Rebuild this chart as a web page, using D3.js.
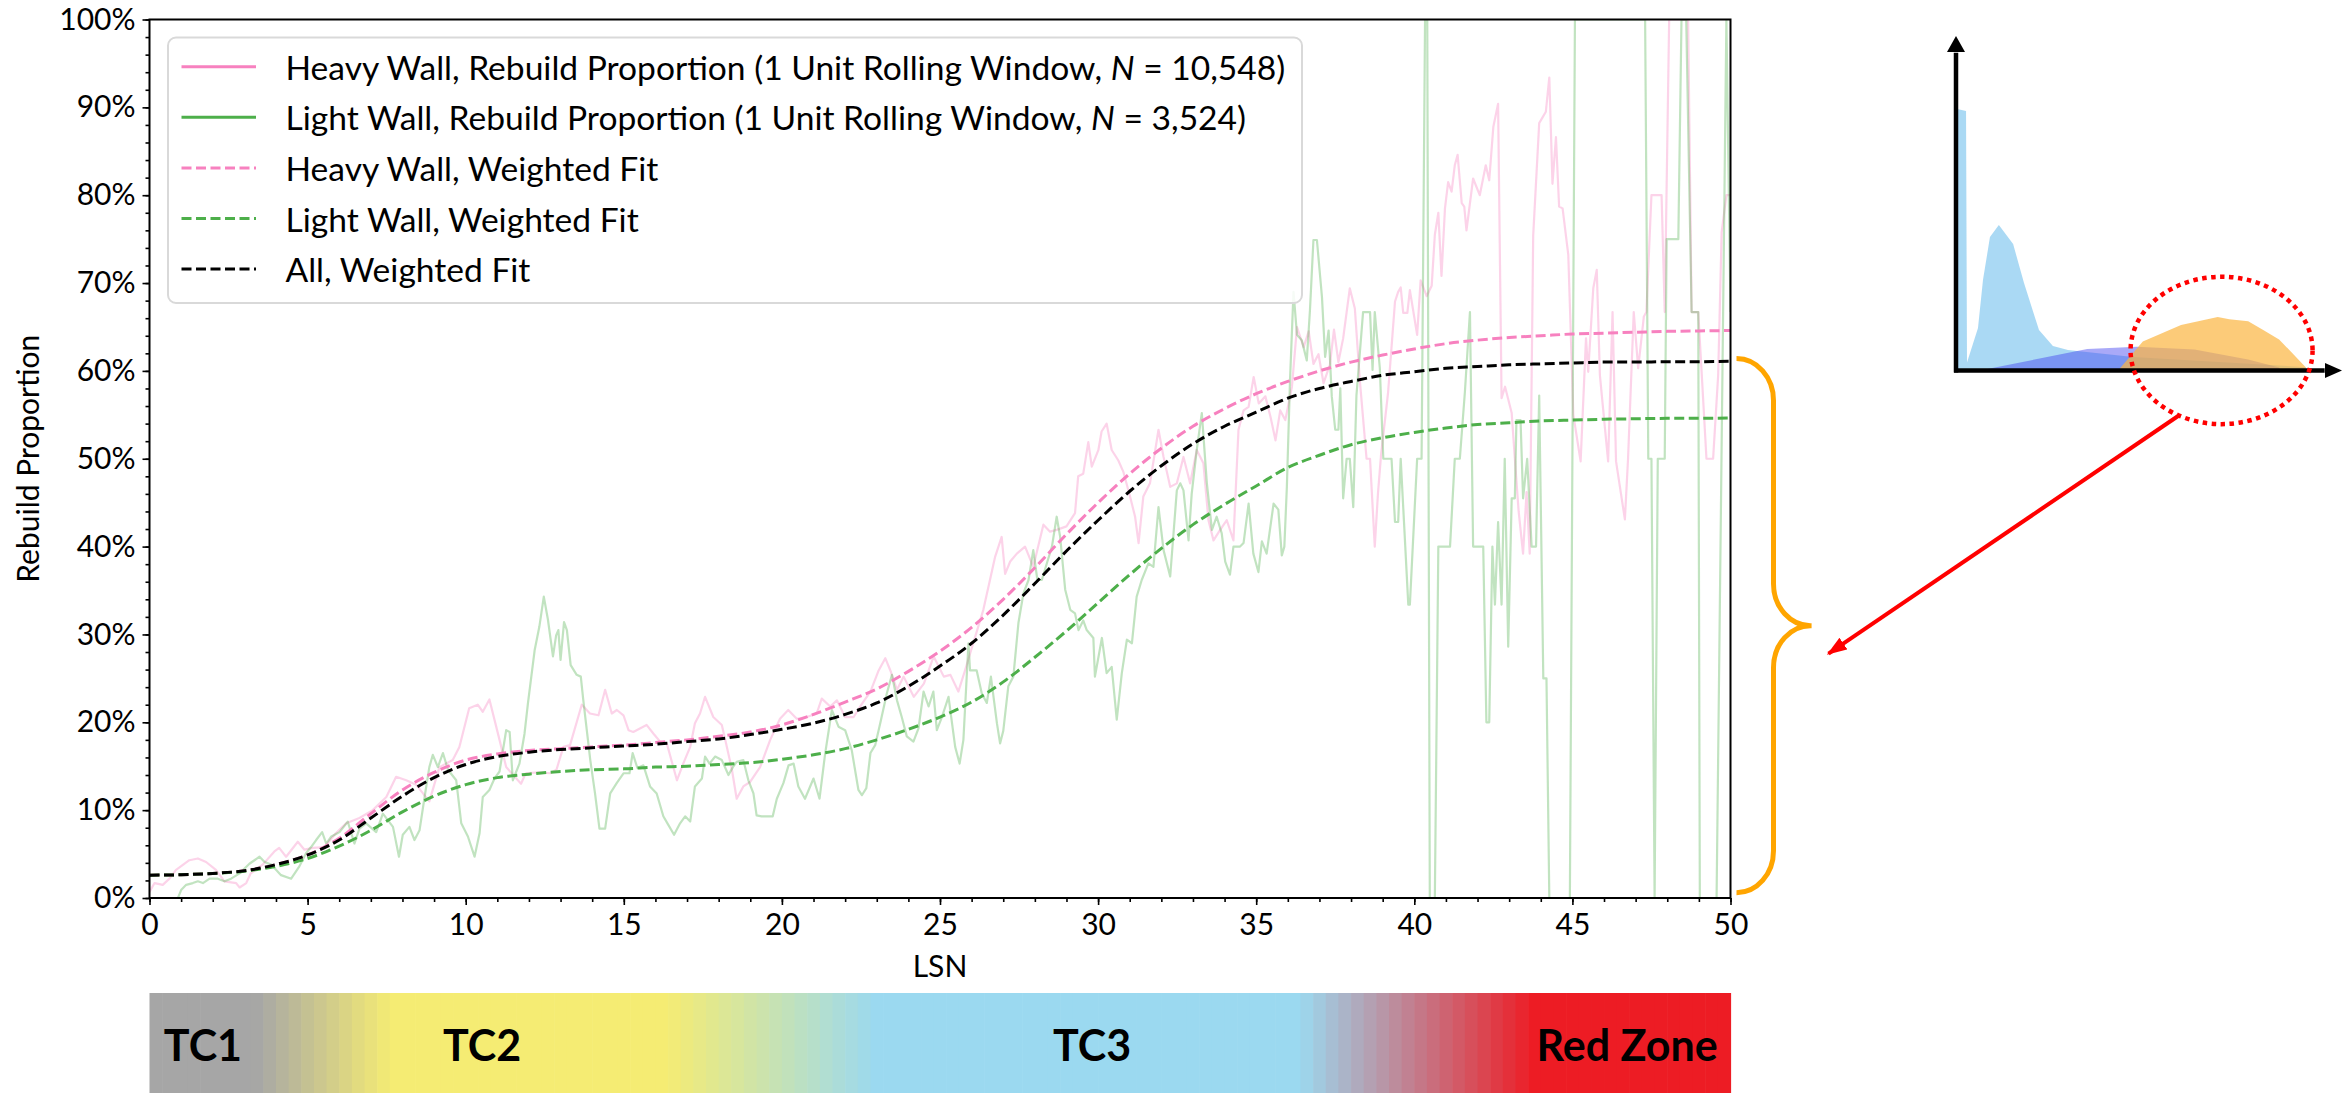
<!DOCTYPE html>
<html>
<head>
<meta charset="utf-8">
<script src="https://cdn.jsdelivr.net/npm/d3@7"></script>
<style>
  body { margin: 0; background: #fff; }
  svg { display: block; font-family: Lato, "DejaVu Sans", sans-serif; }
</style>
</head>
<body>
<div id="chart"></div>
<script>
// ---- data (percent values) ----
const heavyRolling = [[0,0.7],[0.16,1.7],[0.42,1.5],[0.63,2.2],[0.84,3.2],[1.26,4.3],[1.53,4.5],[1.79,4.1],[2.1,3.2],[2.37,1.9],[2.74,1.7],[2.85,1.2],[3.06,1.7],[3.2,2.8],[3.58,3.8],[3.95,5.3],[4.1,5.7],[4.32,4.7],[4.69,6.4],[4.9,5.5],[5.17,5.7],[5.53,5.8],[5.9,7.4],[6.22,8.5],[6.64,9.1],[7.06,10.0],[7.49,11.5],[7.8,13.8],[8.12,13.4],[8.43,12.9],[8.85,11.0],[9.17,14.9],[9.59,15.7],[9.8,17.2],[10.11,21.6],[10.38,22.0],[10.54,21.2],[10.75,22.6],[11.07,18.0],[11.28,14.9],[11.75,13.0],[11.9,14.2],[12.3,14.3],[12.67,14.2],[12.87,14.6],[13.09,17.2],[13.3,17.4],[13.67,22.0],[13.93,21.0],[14.2,20.8],[14.41,23.7],[14.62,21.0],[14.78,21.4],[14.99,20.8],[15.15,19.1],[15.3,18.9],[15.72,19.7],[15.94,18.7],[16.15,17.8],[16.36,17.6],[16.68,13.4],[16.88,15.3],[17.1,17.2],[17.25,19.9],[17.41,21.0],[17.57,22.9],[17.83,20.6],[18.1,19.7],[18.26,17.2],[18.42,14.6],[18.57,11.3],[18.78,12.7],[18.99,13.2],[19.31,14.9],[19.63,18.0],[19.94,20.4],[20.2,21.4],[20.47,20.4],[20.79,20.6],[21.1,21.0],[21.26,22.7],[21.53,21.8],[21.74,22.5],[22.0,20.6],[22.27,20.6],[22.53,22.1],[22.8,23.5],[23.06,25.9],[23.27,27.3],[23.43,25.9],[23.64,23.7],[23.85,25.2],[24.17,22.9],[24.49,24.4],[24.8,27.5],[25.12,25.2],[25.33,25.4],[25.58,23.5],[25.79,25.9],[25.95,27.8],[26.37,32.8],[26.58,36.2],[26.74,38.8],[26.95,41.1],[27.06,36.9],[27.22,38.3],[27.43,39.2],[27.69,40.0],[27.95,37.7],[28.27,42.5],[28.48,41.7],[28.69,41.9],[29.0,42.3],[29.27,43.8],[29.37,48.0],[29.53,48.3],[29.69,51.9],[29.8,49.1],[30.01,51.0],[30.11,53.1],[30.27,54.0],[30.43,51.0],[30.64,49.8],[30.8,48.5],[31.01,45.7],[31.17,43.4],[31.28,40.4],[31.43,45.7],[31.64,47.2],[31.91,53.3],[32.07,50.2],[32.28,46.8],[32.49,47.2],[32.7,50.2],[32.91,47.2],[33.12,51.0],[33.33,49.5],[33.49,43.0],[33.65,40.7],[33.86,41.9],[34.07,43.0],[34.28,40.7],[34.44,53.3],[34.6,55.5],[34.76,55.9],[34.92,59.3],[35.08,56.3],[35.29,57.1],[35.45,54.8],[35.61,52.1],[35.76,55.5],[35.92,54.4],[36.13,58.2],[36.29,65.0],[36.5,62.7],[36.66,64.5],[36.81,60.8],[36.97,61.9],[37.13,58.6],[37.33,60.7],[37.46,64.7],[37.6,61.0],[37.75,63.7],[37.96,69.4],[38.12,67.1],[38.28,58.8],[38.49,50.0],[38.6,50.0],[38.75,40.0],[38.85,46.0],[38.95,50.5],[39.17,57.5],[39.39,67.9],[39.49,69.0],[39.57,69.5],[39.65,66.6],[39.78,66.6],[39.86,69.2],[40.09,64.1],[40.2,70.3],[40.39,68.5],[40.55,69.7],[40.65,75.5],[40.76,78.0],[40.86,70.8],[40.97,78.5],[41.07,81.5],[41.18,80.4],[41.28,83.4],[41.37,84.6],[41.5,79.1],[41.58,78.7],[41.65,76.0],[41.86,81.9],[42.07,80.0],[42.26,83.4],[42.37,81.7],[42.5,87.8],[42.65,90.4],[42.76,56.9],[42.87,58.2],[43.08,55.2],[43.18,50.0],[43.3,44.0],[43.44,39.2],[43.55,46.2],[43.65,39.2],[43.76,75.4],[43.95,88.2],[44.16,89.5],[44.27,93.4],[44.37,81.3],[44.48,86.6],[44.58,78.7],[44.69,78.5],[44.87,73.2],[45.03,55.0],[45.26,49.7],[45.43,63.7],[45.5,59.9],[45.66,69.4],[45.77,71.5],[45.87,59.5],[46.13,49.7],[46.27,66.7],[46.38,49.7],[46.66,43.1],[46.76,50.0],[46.94,66.7],[47.08,60.3],[47.26,66.2],[47.34,66.7],[47.5,80.0],[47.82,80.0],[47.92,66.7],[48.06,100],[48.66,100],[48.77,66.7],[48.98,66.7],[49.08,60.3],[49.24,50.0],[49.45,50.0],[49.61,59.5],[49.72,75.8],[49.87,80.0],[50,80.0]];

const lightRolling = [[0.9,0],[1.0,0.9],[1.16,1.5],[1.37,1.7],[1.53,1.9],[1.69,1.7],[1.9,2.2],[2.16,2.2],[2.37,1.9],[2.58,2.2],[2.85,2.8],[3.16,3.9],[3.32,4.3],[3.48,4.7],[3.64,4.1],[3.85,3.8],[4.16,2.6],[4.48,2.2],[4.74,3.6],[4.95,5.1],[5.11,5.8],[5.27,6.6],[5.46,7.5],[5.59,6.2],[5.75,7.0],[6.01,7.5],[6.27,8.7],[6.48,6.2],[6.64,7.9],[6.85,8.5],[7.17,7.5],[7.38,9.6],[7.7,8.1],[7.89,4.7],[8.01,7.2],[8.22,8.1],[8.38,6.6],[8.54,7.7],[8.7,11.5],[8.85,14.9],[8.96,16.3],[9.12,14.9],[9.28,16.5],[9.44,14.6],[9.7,13.4],[9.86,8.5],[10.07,7.0],[10.28,4.7],[10.44,7.4],[10.54,11.5],[10.75,12.3],[10.91,13.6],[11.07,14.4],[11.28,19.1],[11.39,18.9],[11.49,13.4],[11.7,15.3],[11.86,18.7],[11.97,22.2],[12.18,28.2],[12.33,30.9],[12.47,34.3],[12.6,31.7],[12.76,27.5],[12.86,29.9],[12.93,30.5],[13.0,27.1],[13.11,31.4],[13.2,30.5],[13.32,26.5],[13.51,25.4],[13.64,25.2],[13.72,22.5],[13.94,15.7],[14.09,11.9],[14.23,7.9],[14.41,7.9],[14.57,11.9],[14.78,13.1],[14.99,14.2],[15.18,14.2],[15.28,16.5],[15.43,14.8],[15.62,15.1],[15.83,12.7],[16.04,11.9],[16.25,9.3],[16.38,8.5],[16.59,7.2],[16.78,8.5],[16.94,9.3],[17.1,8.7],[17.25,12.7],[17.47,13.6],[17.57,16.1],[17.71,15.3],[17.89,16.1],[18.1,15.7],[18.31,14.0],[18.45,14.9],[18.57,15.5],[18.78,15.7],[18.94,13.4],[19.1,11.9],[19.2,9.4],[19.36,9.3],[19.52,9.3],[19.71,9.3],[19.84,11.3],[20.05,13.1],[20.21,15.1],[20.37,15.3],[20.52,12.7],[20.73,11.3],[21.0,13.6],[21.19,11.3],[21.37,16.5],[21.58,21.4],[21.79,19.5],[22.0,19.1],[22.21,16.8],[22.42,12.3],[22.53,11.7],[22.67,12.5],[22.8,16.5],[22.95,17.4],[23.11,19.9],[23.32,23.3],[23.48,25.4],[23.64,22.5],[23.79,20.6],[23.95,18.4],[24.16,17.8],[24.32,19.3],[24.48,23.5],[24.64,21.8],[24.79,23.5],[24.9,19.1],[25.06,20.6],[25.27,22.9],[25.48,17.2],[25.62,15.3],[25.74,18.0],[25.9,29.0],[25.95,25.9],[26.16,25.9],[26.32,23.3],[26.48,22.2],[26.61,25.2],[26.8,19.9],[26.9,17.6],[27.0,19.0],[27.16,24.1],[27.32,25.2],[27.48,31.3],[27.64,34.7],[27.8,36.2],[27.95,39.6],[28.08,36.2],[28.22,36.2],[28.38,38.1],[28.54,40.0],[28.69,43.4],[28.8,41.1],[28.96,35.1],[29.12,32.8],[29.27,32.4],[29.38,30.5],[29.53,31.6],[29.64,30.5],[29.85,29.6],[29.9,25.2],[30.12,29.6],[30.27,25.6],[30.43,26.3],[30.59,20.3],[30.75,25.6],[30.91,29.4],[31.07,29.0],[31.22,34.3],[31.38,36.2],[31.59,38.1],[31.75,37.7],[31.91,44.5],[32.07,39.6],[32.28,36.6],[32.49,46.4],[32.6,47.2],[32.7,46.4],[32.86,40.7],[32.96,46.0],[33.12,51.0],[33.28,55.2],[33.44,47.2],[33.6,41.9],[33.75,43.4],[33.91,41.5],[34.02,38.3],[34.17,36.8],[34.28,40.0],[34.49,40.0],[34.6,40.4],[34.76,44.9],[34.91,39.2],[35.07,37.1],[35.18,40.6],[35.33,39.2],[35.55,44.9],[35.7,44.2],[35.81,39.0],[35.89,40.0],[35.97,46.8],[36.07,59.0],[36.18,69.0],[36.29,64.1],[36.44,63.5],[36.6,61.2],[36.7,66.9],[36.81,74.9],[36.92,74.9],[37.08,68.4],[37.18,61.6],[37.29,64.6],[37.39,57.1],[37.5,53.3],[37.6,53.3],[37.66,58.0],[37.75,45.5],[37.86,50.0],[37.96,50.0],[38.07,44.5],[38.17,57.2],[38.38,66.7],[38.6,66.7],[38.68,60.1],[38.75,66.7],[38.91,60.3],[39.02,50.0],[39.28,50.0],[39.39,42.8],[39.49,42.8],[39.57,50.0],[39.81,33.4],[39.86,33.4],[40.09,50.0],[40.23,50.0],[40.34,100],[40.41,100],[40.49,0],[40.65,0],[40.76,40.0],[41.13,40.0],[41.28,50.0],[41.44,50.0],[41.6,57.6],[41.76,66.7],[41.86,40.0],[42.18,40.0],[42.28,20.0],[42.37,20.0],[42.47,40.0],[42.55,33.4],[42.65,42.8],[42.76,33.4],[42.86,50.0],[42.97,28.6],[43.08,45.5],[43.18,45.5],[43.23,54.4],[43.36,54.4],[43.44,45.5],[43.57,50.0],[43.71,40.0],[43.85,40.0],[43.95,57.2],[44.08,25.0],[44.18,25.0],[44.27,0],[44.92,0],[45.08,100],[47.3,100],[47.4,50.0],[47.5,50.0],[47.6,0],[47.7,50.0],[47.92,50.0],[47.98,75.0],[48.35,75.0],[48.45,100],[48.6,100],[48.77,66.7],[48.98,66.7],[49.03,0],[49.56,0],[49.87,100],[50,66.7]];

// weighted fits, one value per whole LSN from 0 to 50
const fitLSN = d3.range(0, 51);
const heavyFit = [2.6,2.65,2.8,3.1,3.8,4.9,6.8,9.6,12.3,14.3,15.7,16.4,16.8,17.0,17.2,17.4,17.7,18.0,18.4,18.9,19.7,20.9,22.3,23.8,25.8,28.1,30.8,34.0,37.6,41.4,45.0,48.3,51.2,53.7,55.7,57.4,58.8,60.0,61.0,61.8,62.5,63.1,63.5,63.8,64.0,64.2,64.3,64.4,64.5,64.55,64.6];
const lightFit = [2.6,2.65,2.8,3.05,3.6,4.5,5.9,7.7,9.8,11.6,12.9,13.7,14.1,14.4,14.6,14.7,14.9,15.0,15.2,15.4,15.8,16.3,17.0,18.0,19.2,20.6,22.3,24.6,27.4,30.4,33.6,36.8,39.8,42.5,44.8,46.9,49.0,50.4,51.6,52.4,53.0,53.5,53.9,54.1,54.3,54.4,54.5,54.55,54.6,54.6,54.65];
const allFit = [2.6,2.65,2.8,3.1,3.8,4.9,6.6,9.1,11.6,13.7,15.2,16.1,16.6,16.9,17.1,17.3,17.5,17.8,18.1,18.6,19.2,19.9,20.9,22.2,24.1,26.4,29.0,32.2,35.8,39.5,43.0,46.3,49.2,51.7,53.7,55.3,56.9,58.0,58.8,59.5,59.9,60.3,60.5,60.7,60.8,60.9,61.0,61.0,61.05,61.05,61.1];

const legendLabels = [
  ["Heavy Wall, Rebuild Proportion (1 Unit Rolling Window, ", "N", " = 10,548)"],
  ["Light Wall, Rebuild Proportion (1 Unit Rolling Window, ", "N", " = 3,524)"],
  ["Heavy Wall, Weighted Fit"],
  ["Light Wall, Weighted Fit"],
  ["All, Weighted Fit"]
];

// zone colour bar under the x axis
const zoneStopLSN = [0, 3.35, 7.65, 16.35, 23.0, 36.35, 43.8, 50];
const zoneStopColors = ["#a6a6a6", "#a6a6a6", "#f5ec73", "#f5ec73", "#9bd9f0", "#9bd9f0", "#ed1c24", "#ed1c24"];
const zoneLabels = ["TC1", "TC2", "TC3", "Red Zone"];
const zoneLabelLSN = [1.69, 10.52, 29.81, 46.73];

// sketch of the distributions (local units 0-100)
const sketchLightBlue = [[0.3,0],[0.3,78.2],[2.6,77.6],[2.85,2.4],[5.7,12.7],[7.0,27.1],[8.8,39.9],[11.1,43.5],[14.8,37.8],[17.6,26.2],[21.5,12.1],[25.1,7.3],[29,6.1],[45.9,4.0],[90.6,1.0],[90.6,0]];
const sketchBlue = [[6.2,0],[34,6.4],[46.9,7.1],[61.8,6.3],[75.7,3.3],[83.7,0.9],[84,0]];
const sketchOrange = [[42.5,0],[42.5,0.7],[48.4,8.7],[58.3,13.6],[67.8,16.0],[70.8,15.3],[75.7,14.7],[79.7,12.0],[83.7,9.3],[90.6,1.0],[90.6,0]];
const braceRange = [0.006, 0.614];

// ---- layout ----
const W = 2351, H = 1093;
const plotLeft = 149.5, plotRight = 1730.5, plotTop = 19.5, plotBottom = 898;
const barTop = 993, barHeight = 100;
const pink = "#f781bf", green = "#4daf4a";

const x = d3.scaleLinear().domain([0, 50]).range([plotLeft, plotRight]);
const y = d3.scaleLinear().domain([0, 1]).range([plotBottom, plotTop]);

const svg = d3.select("#chart").append("svg")
  .attr("width", W).attr("height", H);

svg.append("defs").append("clipPath").attr("id", "plotclip")
  .append("rect")
  .attr("x", plotLeft).attr("y", plotTop)
  .attr("width", plotRight - plotLeft).attr("height", plotBottom - plotTop);

// ---- lines ----
const lineXY = d3.line().x(d => x(d[0])).y(d => y(d[1] / 100));
const fitLine = d3.line().x((d, i) => x(fitLSN[i])).y(d => y(d / 100)).curve(d3.curveMonotoneX);

const lines = svg.append("g").attr("clip-path", "url(#plotclip)");

lines.append("path").datum(heavyRolling)
  .attr("d", lineXY).attr("fill", "none")
  .attr("stroke", pink).attr("stroke-opacity", 0.35)
  .attr("stroke-width", 2.2).attr("stroke-linejoin", "round");

lines.append("path").datum(lightRolling)
  .attr("d", lineXY).attr("fill", "none")
  .attr("stroke", green).attr("stroke-opacity", 0.35)
  .attr("stroke-width", 2.2).attr("stroke-linejoin", "round");

[[heavyFit, pink], [lightFit, green], [allFit, "#000"]].forEach(([vals, col]) => {
  lines.append("path").datum(vals)
    .attr("d", fitLine).attr("fill", "none")
    .attr("stroke", col).attr("stroke-width", 3)
    .attr("stroke-dasharray", "10,4.5");
});

// ---- axes ----
const tickFont = 30;

const xMinor = svg.append("g").attr("transform", `translate(0,${plotBottom})`)
  .call(d3.axisBottom(x).tickValues(d3.range(0, 51, 1)).tickSize(4).tickFormat(""));
const xMajor = svg.append("g").attr("transform", `translate(0,${plotBottom})`)
  .call(d3.axisBottom(x).tickValues(d3.range(0, 51, 5)).tickSize(7).tickPadding(9).tickFormat(d3.format("d")));

const yMinor = svg.append("g").attr("transform", `translate(${plotLeft},0)`)
  .call(d3.axisLeft(y).tickValues(d3.range(0, 51).map(i => i * 0.02)).tickSize(4).tickFormat(""));
const yMajor = svg.append("g").attr("transform", `translate(${plotLeft},0)`)
  .call(d3.axisLeft(y).tickValues(d3.range(0, 11).map(i => i / 10)).tickSize(7).tickPadding(7).tickFormat(d3.format(".0%")));

[xMinor, xMajor, yMinor, yMajor].forEach(g => {
  g.select(".domain").remove();
  g.selectAll(".tick line").attr("stroke", "#000").attr("stroke-width", 1.6);
  g.selectAll(".tick text").attr("font-size", tickFont).attr("font-family", "Lato, sans-serif").attr("fill", "#000");
});

svg.append("rect")
  .attr("x", plotLeft).attr("y", plotTop)
  .attr("width", plotRight - plotLeft).attr("height", plotBottom - plotTop)
  .attr("fill", "none").attr("stroke", "#000").attr("stroke-width", 2);

svg.append("text")
  .attr("x", (plotLeft + plotRight) / 2).attr("y", plotBottom + 79)
  .attr("text-anchor", "middle").attr("font-size", tickFont)
  .text("LSN");

svg.append("text")
  .attr("transform", `translate(27,${(plotTop + plotBottom) / 2}) rotate(-90)`)
  .attr("text-anchor", "middle").attr("dominant-baseline", "central")
  .attr("font-size", tickFont)
  .text("Rebuild Proportion");

// ---- legend ----
const legendStyles = [
  {color: pink, dash: null},
  {color: green, dash: null},
  {color: pink, dash: "10,4.5"},
  {color: green, dash: "10,4.5"},
  {color: "#000", dash: "10,4.5"}
];
const legend = svg.append("g");
legend.append("rect")
  .attr("x", plotLeft + 18.5).attr("y", plotTop + 18)
  .attr("width", 1134).attr("height", 265.5)
  .attr("rx", 8)
  .attr("fill", "#fff").attr("fill-opacity", 0.85)
  .attr("stroke", "#d9d9d9").attr("stroke-width", 2);

const rowY = i => plotTop + 47.2 + i * 50.6;
const legendText = [];
legendLabels.forEach((parts, i) => {
  const st = legendStyles[i];
  legend.append("line")
    .attr("x1", plotLeft + 32).attr("x2", plotLeft + 106.5)
    .attr("y1", rowY(i)).attr("y2", rowY(i))
    .attr("stroke", st.color).attr("stroke-width", 3)
    .attr("stroke-dasharray", st.dash);
  const t = legend.append("text")
    .attr("x", plotLeft + 136).attr("y", rowY(i))
    .attr("dominant-baseline", "central")
    .attr("font-size", 32);
  parts.forEach((p, j) => {
    t.append("tspan").attr("font-style", j === 1 ? "italic" : null).text(p);
  });
  legendText.push(t);
});
// match the width of the first legend row
const w0 = legendText[0].node().getComputedTextLength();
const legendFont = 32 * 1000 / w0;
legendText.forEach(t => t.attr("font-size", legendFont.toFixed(2)));

// ---- zone colour bar ----
const bandStep = 0.4;
const bandStarts = d3.range(0, 50, bandStep);
const zoneColor = d3.scaleLinear().domain(zoneStopLSN).range(zoneStopColors).interpolate(d3.interpolateRgb);
const bar = svg.append("g");
bar.selectAll("rect").data(bandStarts).join("rect")
  .attr("x", d => x(d))
  .attr("width", d => x(Math.min(d + bandStep, 50)) - x(d) + 0.6)
  .attr("y", barTop).attr("height", barHeight)
  .attr("fill", d => zoneColor(Math.min(d + bandStep / 2, 50)));
bar.selectAll("text").data(zoneLabels).join("text")
  .attr("x", (d, i) => x(zoneLabelLSN[i]))
  .attr("y", barTop + 68)
  .attr("text-anchor", "middle")
  .attr("font-size", 43).attr("font-weight", 700)
  .text(d => d);

// ---- brace ----
const bTop = y(braceRange[1]), bBot = y(braceRange[0]);
const bMid = (bTop + bBot) / 2;
const xL = plotRight + 6, xV = xL + 37, xT = xL + 75;
svg.append("path")
  .attr("d", `M${xL},${bTop} A37,42 0 0 1 ${xV},${bTop + 42} L${xV},${bMid - 42} A37,42 0 0 0 ${xT},${bMid} A37,42 0 0 0 ${xV},${bMid + 42} L${xV},${bBot - 42} A37,42 0 0 1 ${xL},${bBot}`)
  .attr("fill", "none").attr("stroke", "#ffa500").attr("stroke-width", 5);

// ---- distribution sketch ----
const ix = d3.scaleLinear().domain([0, 100]).range([1956, 2342]);
const iy = d3.scaleLinear().domain([0, 100]).range([370.5, 36]);
const sketchArea = d3.line().x(d => ix(d[0])).y(d => iy(d[1]));
const sketch = svg.append("g");
sketch.append("path").datum(sketchLightBlue).attr("d", sketchArea)
  .attr("fill", "#56b4e9").attr("fill-opacity", 0.5);
sketch.append("path").datum(sketchBlue).attr("d", sketchArea)
  .attr("fill", "#4040f0").attr("fill-opacity", 0.45);
sketch.append("path").datum(sketchOrange).attr("d", sketchArea)
  .attr("fill", "#fbb540").attr("fill-opacity", 0.7);

sketch.append("line")
  .attr("x1", ix(0)).attr("x2", ix(0))
  .attr("y1", iy(0) + 2).attr("y2", iy(95))
  .attr("stroke", "#000").attr("stroke-width", 4.5);
sketch.append("line")
  .attr("x1", ix(0) - 2).attr("x2", ix(95.5))
  .attr("y1", iy(0)).attr("y2", iy(0))
  .attr("stroke", "#000").attr("stroke-width", 4.5);
sketch.append("path")
  .attr("d", `M${ix(0)},${iy(100)} L${ix(0) + 9},${iy(100) + 16} L${ix(0) - 9},${iy(100) + 16} Z`)
  .attr("fill", "#000");
sketch.append("path")
  .attr("d", `M${ix(100)},${iy(0)} L${ix(100) - 17},${iy(0) - 7.5} L${ix(100) - 17},${iy(0) + 7.5} Z`)
  .attr("fill", "#000");

const ecx = ix(68.8), ecy = iy(6.0), erx = 91, ery = 73.7;
sketch.append("ellipse")
  .attr("cx", ecx).attr("cy", ecy).attr("rx", erx).attr("ry", ery)
  .attr("fill", "none").attr("stroke", "#ff0000")
  .attr("stroke-width", 4.5).attr("stroke-dasharray", "4.5,4.5");

// ---- red arrow from the ellipse to the brace ----
svg.append("defs").append("marker")
  .attr("id", "redhead").attr("markerUnits", "userSpaceOnUse")
  .attr("viewBox", "0 0 20 14").attr("refX", 18).attr("refY", 7)
  .attr("markerWidth", 20).attr("markerHeight", 14).attr("orient", "auto")
  .append("path").attr("d", "M0,0 L20,7 L0,14 Z").attr("fill", "#ff0000");
const a0 = 118 * Math.PI / 180;
svg.append("line")
  .attr("x1", ecx + erx * Math.cos(a0)).attr("y1", ecy + ery * Math.sin(a0))
  .attr("x2", xT + 17).attr("y2", bMid + 28)
  .attr("stroke", "#ff0000").attr("stroke-width", 4)
  .attr("marker-end", "url(#redhead)");
</script>
</body>
</html>
